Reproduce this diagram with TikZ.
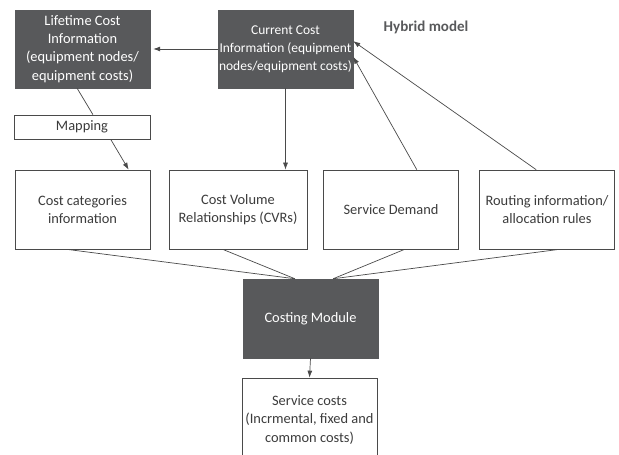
\documentclass[tikz,border=0pt]{standalone}
\usepackage{fontspec}
\setmainfont{Carlito}
\usetikzlibrary{calc,arrows.meta}
\definecolor{boxdark}{HTML}{58595B}
\definecolor{linegray}{HTML}{4A4A4A}
\definecolor{textgray}{HTML}{3C3C3C}
\tikzset{
  darkbox/.style={fill=boxdark,draw=boxdark,text=white,align=center,
    minimum width=4.05cm,minimum height=2.34cm,inner sep=0pt,
    font=\fontsize{12.3}{15.6}\selectfont},
  whitebox/.style={draw=linegray,line width=0.6pt,fill=white,text=textgray,align=center,
    minimum width=4.05cm,minimum height=2.37cm,inner sep=0pt,
    font=\fontsize{12.3}{15.6}\selectfont},
  link/.style={draw=linegray,line width=0.6pt},
  arr/.style={link,-{Latex[length=2.1mm,width=1.5mm]}}
}
\begin{document}
\begin{tikzpicture}[x=0.03cm,y=-0.03cm]
                \useasboundingbox (0,0) rectangle (619,455);
                \clip (0,0) rectangle (619,455);
                % top row
                \node[darkbox] (life) at (82.5,49) {Lifetime Cost\\Information\\(equipment nodes/\\equipment costs)};
                \node[darkbox,font=\fontsize{11.5}{15.6}\selectfont] (cur) at (285.5,49) {Current Cost\\Information (equipment\\nodes/equipment costs)};
                \node[text=boxdark,font=\fontsize{12.8}{14}\selectfont\bfseries] (title) at (426,27) {Hybrid model};
                \node[whitebox,minimum height=0.72cm,minimum width=4.08cm] (map) at (82,127) {Mapping};
                % middle row
                \node[whitebox] (cat) at (82.5,209.5) {Cost categories\\information};
                \node[whitebox,minimum width=4.14cm] (cvr) at (238,209.5) {Cost Volume\\Relationships (CVRs)};
                \node[whitebox] (dem) at (391,209.5) {Service Demand};
                \node[whitebox] (rout) at (547,209.5) {Routing information/\\allocation rules};
                % bottom
                \node[darkbox,minimum height=2.37cm] (cost) at (310.5,318.5) {Costing Module};
                \node[whitebox,minimum height=2.52cm] (svc) at (309.5,420) {Service costs\\(Incrmental, fixed and\\common costs)};
                % connectors
                \draw[arr,shorten >=0.09cm] (cur.west) -- (life.east);
                \draw[link] ($(life.south west)!0.46!(life.south east)$) -- ($(map.north west)!0.58!(map.north east)$);
                \draw[arr] ($(map.south west)!0.71!(map.south east)$) -- ($(cat.north west)!0.84!(cat.north east)$);
                \draw[arr] (cur.south) -- (cur.south |- cvr.north);
                \draw[arr] ($(dem.north west)!0.69!(dem.north east)$) -- ($(cur.north east)!0.6!(cur.south east)$);
                \draw[arr] ($(rout.north west)!0.42!(rout.north east)$) -- ($(cur.north east)!0.4!(cur.south east)$);
                \draw[link] ($(cat.south west)!0.385!(cat.south east)$) -- ($(cost.north west)!0.385!(cost.north east)$);
                \draw[link] ($(cvr.south west)!0.39!(cvr.south east)$) -- ($(cost.north west)!0.385!(cost.north east)$);
                \draw[link] ($(dem.south west)!0.6!(dem.south east)$) -- ($(cost.north west)!0.667!(cost.north east)$);
                \draw[link] ($(rout.south west)!0.59!(rout.south east)$) -- ($(cost.north west)!0.667!(cost.north east)$);
                \draw[arr] (cost.south) -- (svc.north);
\end{tikzpicture}
\end{document}
